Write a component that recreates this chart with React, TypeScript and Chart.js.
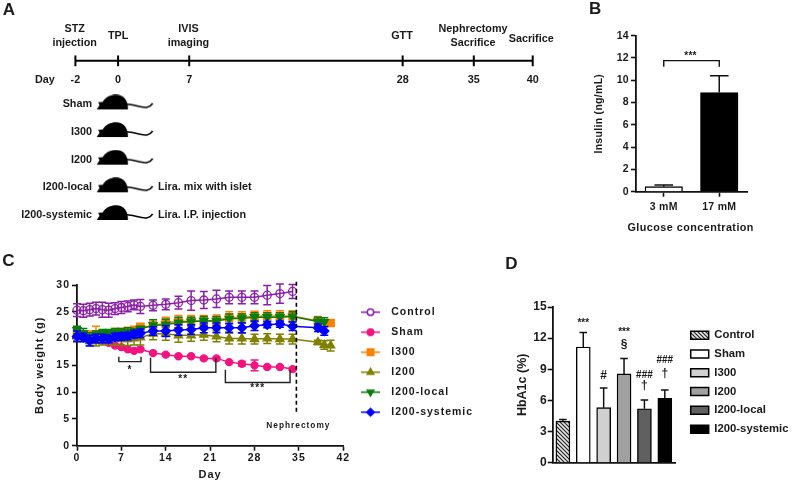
import React, { useEffect, useRef } from "react";
import { Chart, LinearScale, registerables } from "chart.js";
import { drawPoint } from "chart.js/helpers";

// ---------- Panel A data ----------
const timelineDays = [-2, 0, 7, 28, 35, 40];
const timelineEvents = [["STZ", "injection"], ["TPL"], ["IVIS", "imaging"], ["GTT"], ["Nephrectomy", "Sacrifice"], ["Sacrifice"]];
const groupNames = ["Sham", "I300", "I200", "I200-local", "I200-systemic"];
const groupRows = [0, 1, 2, 3, 4];
const treatmentNotes = ["", "", "", "Lira. mix with islet", "Lira. I.P. injection"];

// ---------- Panel B data ----------
const glucoseLabels = ["3 mM", "17 mM"];
const insulinValues = [0.45, 8.9];
const insulinErrors = [0.15, 1.5];

// ---------- Panel C data ----------
const studyDays = [0, 1, 2, 3, 4, 5, 6, 7, 8, 9, 10, 12, 14, 16, 18, 20, 22, 24, 26, 28, 30, 32, 34];
const controlWeight = [25.3, 25.2, 25.4, 25.6, 25.4, 25.3, 25.6, 25.8, 26.0, 26.3, 26.0, 26.2, 26.4, 26.7, 27.1, 27.2, 27.4, 27.7, 27.7, 27.7, 28.1, 28.4, 28.8];
const controlError = [1.2, 1.2, 1.2, 1.2, 1.4, 1.3, 1.1, 1.1, 1.0, 0.9, 1.3, 1.0, 1.0, 1.2, 1.8, 1.6, 1.6, 1.2, 1.2, 1.2, 1.8, 1.8, 1.3];
const shamWeight = [20.8, 20.5, 20.0, 19.8, 19.6, 19.2, 18.7, 18.4, 18.0, 17.7, 18.0, 17.3, 17.0, 16.7, 16.7, 16.3, 16.3, 15.6, 15.3, 15.0, 14.7, 14.7, 14.3];
const shamError = [0.3, 0.3, 0.3, 0.3, 0.3, 0.3, 0.2, 0.2, 0.2, 0.2, 0.2, 0.2, 0.2, 0.2, 0.2, 0.2, 0.2, 0.2, 0.4, 1.0, 0.2, 0.2, 0.2];
const i300Days = [...studyDays, 38, 40];
const i300Weight = [21.0, 20.7, 20.5, 20.8, 20.5, 20.7, 21.0, 21.0, 21.2, 21.4, 22.2, 22.3, 23.0, 23.2, 23.3, 23.3, 23.4, 23.9, 24.0, 24.1, 24.2, 24.2, 24.2, 23.3, 22.9];
const i300Error = [0.9, 0.7, 0.9, 1.5, 0.8, 0.8, 0.9, 0.9, 0.9, 0.9, 0.5, 0.9, 1.0, 1.1, 1.0, 1.0, 1.0, 1.1, 1.0, 1.0, 1.0, 1.0, 1.0, 0.8, 0.5];
const i200Days = [...studyDays, 38, 39, 40];
const i200Weight = [20.6, 20.3, 19.5, 19.5, 19.8, 20.0, 20.0, 19.9, 19.9, 20.0, 20.2, 20.9, 20.9, 20.6, 20.6, 20.7, 20.4, 20.0, 20.0, 19.9, 20.0, 19.9, 19.9, 19.3, 18.8, 18.7];
const i200Error = [1.0, 0.8, 0.8, 0.9, 1.0, 1.0, 1.2, 1.2, 1.2, 1.2, 1.4, 1.1, 1.2, 1.3, 1.1, 1.0, 1.0, 1.0, 1.0, 0.9, 0.9, 0.9, 0.9, 0.4, 0.8, 1.0];
const localDays = [...studyDays, 38, 39];
const localWeight = [21.6, 21.0, 20.3, 20.7, 21.0, 21.0, 21.1, 21.1, 21.2, 21.2, 21.8, 22.5, 22.6, 23.0, 23.2, 23.3, 23.3, 23.7, 23.8, 24.0, 24.0, 24.0, 24.1, 23.2, 23.1];
const localError = [0.7, 0.9, 0.8, 0.7, 0.7, 0.7, 0.8, 0.8, 0.8, 0.7, 0.5, 1.0, 1.0, 1.0, 0.8, 0.8, 0.8, 0.9, 0.8, 0.8, 0.8, 0.8, 0.9, 0.8, 0.8];
const systemicWeight = [20.4, 20.2, 19.6, 20.0, 20.0, 19.9, 20.3, 20.4, 20.5, 20.8, 21.0, 21.4, 21.4, 21.6, 21.7, 22.0, 22.0, 22.0, 22.0, 22.4, 22.6, 22.7, 22.3, 22.0, 21.4];
const systemicError = [1.0, 0.8, 1.0, 0.8, 0.8, 0.7, 0.7, 0.7, 0.7, 0.7, 0.8, 0.8, 1.0, 1.0, 0.9, 0.9, 0.9, 0.8, 0.9, 0.9, 0.6, 0.6, 0.8, 0.7, 0.8];
const bracketFrom = [6.6, 11.6, 23.4];
const bracketTo = [10.1, 21.9, 33.6];
const bracketLow = [15.7, 13.7, 11.8];
const bracketHigh = [16.6, 16.4, 14.2];
const bracketStars = ["*", "**", "***"];
const bracketStarValue = [14.1, 12.4, 10.8];
const nephrectomyDay = 34.6;

// ---------- Panel D data ----------
const hba1cGroups = ["Control", "Sham", "I300", "I200", "I200-local", "I200-systemic"];
const hba1cValues = [4.0, 11.15, 5.3, 8.55, 5.2, 6.2];
const hba1cErrors = [0.15, 1.4, 1.9, 1.5, 0.85, 0.8];
const markGroup = [1, 3, 3, 2, 4, 4, 5, 5];
const markValue = [13.4, 12.6, 11.35, 8.4, 8.45, 7.45, 9.85, 8.55];
const markText = ["***", "***", "§", "#", "###", "†", "###", "†"];

const INK = "#1a1a1a";
const FONT = "'Liberation Sans', Arial, sans-serif";
const bold = (size: number) => `bold ${size}px ${FONT}`;

function write(ctx: any, text: string, x: number, y: number, font: string, align = "center", gap = "") {
  ctx.save();
  ctx.font = font;
  if (gap) ctx.letterSpacing = gap;
  ctx.fillStyle = INK;
  ctx.textAlign = align;
  ctx.textBaseline = "middle";
  ctx.fillText(text, x, y);
  ctx.restore();
}

// Timeline axis: a day-linear scale whose two outer segments are stretched differently.
const warp = (d: number) => (d < 0 ? d * 2.1 : d > 35 ? 35 + (d - 35) * 1.159 : d);
class TimelineScale extends LinearScale {
  static id = "timeline";
  static defaults = LinearScale.defaults;
  getPixelForValue(v: number) {
    const lo = warp(this.min), hi = warp(this.max);
    return this.getPixelForDecimal((warp(v) - lo) / (hi - lo));
  }
}
Chart.register(...registerables, TimelineScale);

function mouseImage() {
  const c = document.createElement("canvas");
  c.width = 72;
  c.height = 20;
  const g = c.getContext("2d")!;
  g.translate(14.6, 0.3);
  g.scale(56 / 52, 1);
  g.fillStyle = "#000";
  g.strokeStyle = "#000";
  g.beginPath();
  g.moveTo(0, 14.6);
  g.lineTo(2.6, 10.5);
  g.lineTo(1.4, 7.5);
  g.lineTo(5.6, 7.2);
  g.bezierCurveTo(8, 2.5, 13, 0, 18, 0);
  g.bezierCurveTo(25, 0, 29.5, 6, 29, 14.6);
  g.closePath();
  g.fill();
  g.lineWidth = 1.6;
  g.beginPath();
  g.moveTo(28, 9.5);
  g.bezierCurveTo(35, 9.5, 42, 14, 47, 12.5);
  g.quadraticCurveTo(50, 11.8, 52, 8.5);
  g.stroke();
  return c;
}

function hatchPattern() {
  const c = document.createElement("canvas");
  c.width = 4;
  c.height = 4;
  const g = c.getContext("2d")!;
  g.fillStyle = "#e8e8e8";
  g.fillRect(0, 0, 4, 4);
  g.strokeStyle = "#222";
  g.lineWidth = 1.2;
  g.beginPath();
  g.moveTo(-1, -1); g.lineTo(5, 5);
  g.moveTo(-1, 3); g.lineTo(1, 5);
  g.moveTo(3, -1); g.lineTo(5, 1);
  g.stroke();
  return g.createPattern(c, "repeat")!;
}

const errorBars = {
  id: "errorBars",
  beforeDatasetDraw(chart: any, args: any) {
    const ds = chart.data.datasets[args.index];
    if (!ds.errors) return;
    const y = chart.scales.y;
    const meta = chart.getDatasetMeta(args.index);
    const ctx = chart.ctx;
    ctx.save();
    ctx.strokeStyle = ds.errorColor;
    ctx.lineWidth = ds.errorWidth;
    meta.data.forEach((el: any, i: number) => {
      const raw = ds.data[i];
      const v = typeof raw === "number" ? raw : raw.y;
      const top = y.getPixelForValue(v + ds.errors[i]);
      const bot = y.getPixelForValue(ds.upOnly ? v : v - ds.errors[i]);
      ctx.beginPath();
      ctx.moveTo(el.x, bot); ctx.lineTo(el.x, top);
      ctx.moveTo(el.x - ds.capHalf, top); ctx.lineTo(el.x + ds.capHalf, top);
      if (!ds.upOnly) { ctx.moveTo(el.x - ds.capHalf, bot); ctx.lineTo(el.x + ds.capHalf, bot); }
      ctx.stroke();
    });
    ctx.restore();
  },
};

// Places the Chart.js legend (laid out on the chart area) at a chosen spot in the canvas.
const placeLegend = (left: number, top: number, w: number, h: number) => ({
  id: "placeLegend",
  beforeDraw(chart: any) {
    const l = chart.legend;
    if (!l) return;
    Object.assign(l, { left, top, right: left + w, bottom: top + h, width: w, height: h });
  },
});

const spacing = (px: string) => ({
  id: "spacing",
  beforeLayout(chart: any) { chart.ctx.letterSpacing = px; },
});

const axisScale = (extra: any, fit: (s: any) => void) => ({
  afterFit: fit,
  border: { display: true, color: "#111", width: 1.8 },
  grid: { drawOnChartArea: false, drawTicks: true, tickLength: 5, tickWidth: 1.6, tickColor: "#111", offset: false },
  ...extra,
});

function panelA(canvas: HTMLCanvasElement) {
  const mouse = mouseImage();
  return new Chart(canvas, {
    type: "scatter",
    data: {
      datasets: [
        {
          data: timelineDays.map((d) => ({ x: d, y: -1.575 })),
          showLine: true,
          borderColor: "#000",
          borderWidth: 2,
          pointStyle: "line",
          pointRotation: 90,
          pointRadius: 5.4,
          pointBorderWidth: 2,
          pointBorderColor: "#000",
          clip: false,
        },
        {
          data: groupRows.map((r) => ({ x: 0, y: r })),
          pointStyle: mouse,
          pointRadius: 5,
          clip: false,
        },
      ],
    } as any,
    plugins: [
      {
        id: "textA",
        afterDraw(chart: any) {
          const { ctx, scales } = chart;
          const { x, y } = scales;
          write(ctx, "A", 9, 10.5, bold(17));
          write(ctx, "Day", 44.9, 80, bold(10.8));
          const sh = [-0.7, 0, -0.8, -0.7, -0.8, -1.5];
          const rows = [[29, 42.7], [36], [29, 43], [36], [29, 42.7], [39]];
          timelineEvents.forEach((lines, i) => {
            lines.forEach((t, j) => write(ctx, t, x.getPixelForValue(timelineDays[i]) + sh[i], rows[i][j], bold(10.8)));
          });
          groupNames.forEach((g, i) => {
            write(ctx, g, x.getPixelForValue(-1.22), y.getPixelForValue(groupRows[i]), bold(10.8), "right");
            if (treatmentNotes[i]) write(ctx, treatmentNotes[i], x.getPixelForValue(3.93), y.getPixelForValue(groupRows[i]), bold(10.8), "left");
          });
        },
      },
    ],
    options: {
      responsive: false,
      animation: false,
      events: [],
      layout: { padding: { left: 75.4, right: 580 - 532.7, top: 21.45, bottom: 250 - 243.45 } },
      plugins: { legend: { display: false }, tooltip: { enabled: false } },
      scales: {
        x: {
          type: "timeline",
          min: -2,
          max: 40,
          position: { y: -1.12 },
          afterBuildTicks: (s: any) => { s.ticks = timelineDays.map((value) => ({ value })); },
          border: { display: false },
          grid: { display: false, drawTicks: false },
          ticks: { autoSkip: false, maxRotation: 0, padding: 0, color: INK, font: { family: FONT, weight: "bold", size: 10.8 } },
        },
        y: { min: -3, max: 5, reverse: true, display: false },
      },
    } as any,
  });
}

function panelB(canvas: HTMLCanvasElement) {
  const W = 212, H = 240;
  return new Chart(canvas, {
    type: "bar",
    data: {
      labels: glucoseLabels,
      datasets: [
        {
          data: insulinValues,
          backgroundColor: ["#fff", "#000"],
          borderColor: "#000",
          borderWidth: 1.4,
          barThickness: 37.5,
          errors: insulinErrors,
          errorColor: "#111",
          errorWidth: 1.5,
          capHalf: 9.3,
          upOnly: true,
        },
      ],
    } as any,
    plugins: [
      errorBars,
      spacing("0.3px"),
      {
        id: "textB",
        afterDraw(chart: any) {
          const { ctx, scales } = chart;
          const { x, y } = scales;
          write(ctx, "B", 15.3, 9.5, bold(17));
          const a = x.getPixelForValue(0), b = x.getPixelForValue(1);
          const hi = y.getPixelForValue(11.76), lo = y.getPixelForValue(11.22);
          ctx.save();
          ctx.strokeStyle = "#111";
          ctx.lineWidth = 1.4;
          ctx.beginPath();
          ctx.moveTo(a, lo); ctx.lineTo(a, hi); ctx.lineTo(b, hi); ctx.lineTo(b, lo);
          ctx.stroke();
          ctx.restore();
          write(ctx, "***", (a + b) / 2 - 1, y.getPixelForValue(12.2), bold(10));
          write(ctx, "Glucose concentration", 110.7, 228, bold(10.8), "center", "0.45px");
        },
      },
    ],
    options: {
      responsive: false,
      animation: false,
      events: [],
      layout: { padding: { top: 35.7, right: W - 167 } },
      plugins: { legend: { display: false }, tooltip: { enabled: false } },
      scales: {
        x: axisScale(
          { ticks: { color: INK, padding: 4, font: { family: FONT, weight: "bold", size: 10.5 } } },
          (s) => { s.height = H - 191.7; },
        ),
        y: axisScale(
          {
            min: 0,
            max: 14,
            ticks: { stepSize: 2, color: INK, padding: 2, font: { family: FONT, weight: "bold", size: 10.5 } },
            title: { display: true, text: "Insulin (ng/mL)", color: INK, padding: { top: 13, bottom: 0 }, font: { family: FONT, weight: "bold", size: 10.5 } },
          },
          (s) => { s.width = 56; },
        ),
      },
    } as any,
  });
}

function panelC(canvas: HTMLCanvasElement) {
  const W = 500, H = 232;
  const series = [
    { label: "Control", days: studyDays, y: controlWeight, err: controlError, color: "#8A1FA8", style: "circle", r: 4, key: 3.2, rot: 0, open: true },
    { label: "Sham", days: studyDays, y: shamWeight, err: shamError, color: "#F5147F", style: "circle", r: 3.5, key: 3.2, rot: 0, open: false },
    { label: "I300", days: i300Days, y: i300Weight, err: i300Error, color: "#FF8000", style: "rect", r: 5.2, key: 4.6, rot: 0, open: false },
    { label: "I200", days: i200Days, y: i200Weight, err: i200Error, color: "#808000", style: "triangle", r: 4.8, key: 3.8, rot: 0, open: false },
    { label: "I200-local", days: localDays, y: localWeight, err: localError, color: "#0B7D0B", style: "triangle", r: 4.8, key: 3.8, rot: 180, open: false },
    { label: "I200-systemic", days: localDays, y: systemicWeight, err: systemicError, color: "#0000FF", style: "rectRot", r: 4.6, key: 3.8, rot: 0, open: false },
  ];
  const legendIcon = (s: any) => {
    const c = document.createElement("canvas");
    c.width = 25;
    c.height = 12;
    const g = c.getContext("2d")!;
    g.strokeStyle = s.color;
    g.lineWidth = 1.5;
    g.beginPath();
    g.moveTo(0, 6); g.lineTo(19, 6);
    g.stroke();
    g.fillStyle = s.open ? "#fff" : s.color;
    drawPoint(g, { pointStyle: s.style, radius: s.key, borderWidth: 1.2, rotation: s.rot } as any, 9.5, 6);
    return c;
  };
  const icons = series.map(legendIcon);
  return new Chart(canvas, {
    type: "scatter",
    data: {
      datasets: series.map((s, i) => ({
        label: s.label,
        data: s.y.map((v, k) => ({ x: s.days[k], y: v })),
        showLine: true,
        order: -i,
        borderColor: s.color,
        borderWidth: 1.5,
        pointStyle: s.style,
        pointRadius: s.r,
        pointRotation: s.rot,
        pointBorderColor: s.color,
        pointBorderWidth: 1.3,
        pointBackgroundColor: s.open ? "rgba(0,0,0,0)" : s.color,
        errors: s.err,
        errorColor: s.color,
        errorWidth: 1.5,
        capHalf: 4,
        clip: false,
      })),
    } as any,
    plugins: [
      errorBars,
      placeLegend(351.5, 47.5, 146, 130),
      spacing("1px"),
      {
        id: "notesC",
        afterDatasetsDraw(chart: any) {
          const { ctx, scales } = chart;
          const { x, y } = scales;
          ctx.save();
          ctx.strokeStyle = "#222";
          ctx.lineWidth = 1.4;
          bracketFrom.forEach((from, i) => {
            const a = x.getPixelForValue(from), b = x.getPixelForValue(bracketTo[i]);
            const lo = y.getPixelForValue(bracketLow[i]), hi = y.getPixelForValue(bracketHigh[i]);
            ctx.beginPath();
            ctx.moveTo(a, hi); ctx.lineTo(a, lo); ctx.lineTo(b, lo); ctx.lineTo(b, hi);
            ctx.stroke();
            write(ctx, bracketStars[i], (a + b) / 2, y.getPixelForValue(bracketStarValue[i]), bold(10));
          });
          ctx.strokeStyle = "#000";
          ctx.lineWidth = 1.6;
          ctx.setLineDash([4, 3]);
          const dx = x.getPixelForValue(nephrectomyDay);
          ctx.beginPath();
          ctx.moveTo(dx, y.getPixelForValue(30.6));
          ctx.lineTo(dx, y.getPixelForValue(5.8));
          ctx.stroke();
          ctx.restore();
          write(ctx, "C", 9, 11, bold(17));
          write(ctx, "Nephrectomy", dx + 2, 175.6, bold(8.3));
        },
      },
    ],
    options: {
      responsive: false,
      animation: false,
      events: [],
      layout: { padding: { top: 35, right: W - 343.3 } },
      plugins: {
        tooltip: { enabled: false },
        legend: {
          position: "chartArea",
          align: "start",
          labels: {
            usePointStyle: true,
            pointStyleWidth: 25,
            padding: 9.5,
            color: INK,
            font: { family: FONT, weight: "bold", size: 10.5 },
            generateLabels: () =>
              series.map((s, i) => ({ text: s.label, pointStyle: icons[i], datasetIndex: i, fontColor: INK, hidden: false })),
          },
        },
      },
      scales: {
        x: axisScale(
          {
            type: "linear",
            min: 0,
            max: 42,
            ticks: { stepSize: 7, color: INK, padding: 1, font: { family: FONT, weight: "bold", size: 10.5 } },
            title: { display: true, text: "Day", color: INK, padding: { top: 0, bottom: 0 }, font: { family: FONT, weight: "bold", size: 11 } },
          },
          (s) => { s.height = H - 195.7; },
        ),
        y: axisScale(
          {
            min: 0,
            max: 30,
            ticks: { stepSize: 5, color: INK, padding: 2, font: { family: FONT, weight: "bold", size: 10.5 } },
            title: { display: true, text: "Body weight (g)", color: INK, padding: { top: 33, bottom: 0 }, font: { family: FONT, weight: "bold", size: 11 } },
          },
          (s) => { s.width = 77; },
        ),
      },
    } as any,
  });
}

function panelD(canvas: HTMLCanvasElement) {
  const W = 292, H = 232;
  const hatch = hatchPattern();
  const fills = [hatch, "#fff", "#d0d0d0", "#a0a0a0", "#606060", "#000"];
  return new Chart(canvas, {
    type: "bar",
    data: {
      labels: hba1cGroups,
      datasets: [
        {
          data: hba1cValues,
          backgroundColor: fills,
          borderColor: "#000",
          borderWidth: 1.4,
          barThickness: 14,
          errors: hba1cErrors,
          errorColor: "#111",
          errorWidth: 1.5,
          capHalf: 3.8,
          upOnly: true,
        },
      ],
    } as any,
    plugins: [
      errorBars,
      placeLegend(183.2, 72, 108, 125),
      {
        id: "textD",
        afterDraw(chart: any) {
          const { ctx, scales } = chart;
          const { x, y } = scales;
          write(ctx, "D", 11.5, 14, bold(17));
          markText.forEach((t, i) => {
            const size = t === "†" || t === "§" ? 12 : t === "#" ? 12 : 10;
            write(ctx, t, x.getPixelForValue(markGroup[i]), y.getPixelForValue(markValue[i]), bold(size));
          });
        },
      },
    ],
    options: {
      responsive: false,
      animation: false,
      events: [],
      layout: { padding: { top: 57, right: W - 175 } },
      plugins: {
        tooltip: { enabled: false },
        legend: {
          position: "chartArea",
          align: "start",
          labels: {
            boxWidth: 18,
            boxHeight: 8,
            padding: 7.5,
            color: INK,
            font: { family: FONT, weight: "bold", size: 11.3 },
            generateLabels: () =>
              hba1cGroups.map((g, i) => ({ text: g, fillStyle: fills[i], strokeStyle: "#000", lineWidth: 1.5, index: i, fontColor: INK, hidden: false })),
          },
        },
      },
      scales: {
        x: axisScale(
          { grid: { display: false, drawTicks: false }, ticks: { display: false } },
          (s) => { s.height = H - 212.7; },
        ),
        y: axisScale(
          {
            min: 0,
            max: 15,
            ticks: { stepSize: 3, color: INK, padding: 1, font: { family: FONT, weight: "bold", size: 12 } },
            title: { display: true, text: "HbA1c (%)", color: INK, padding: { top: 15, bottom: 0 }, font: { family: FONT, weight: "bold", size: 12.5 } },
          },
          (s) => { s.width = 52.7; },
        ),
      },
    } as any,
  });
}

const boxes = [
  { left: 0, top: 0, width: 580, height: 250, make: panelA },
  { left: 580, top: 0, width: 212, height: 240, make: panelB },
  { left: 0, top: 250, width: 500, height: 232, make: panelC },
  { left: 500, top: 250, width: 292, height: 232, make: panelD },
];

export default function App() {
  const refs = useRef<(HTMLCanvasElement | null)[]>([]);
  useEffect(() => {
    const charts = boxes.map((b, i) => b.make(refs.current[i]!));
    return () => charts.forEach((c) => c.destroy());
  }, []);
  return (
    <div style={{ position: "absolute", left: 0, top: 0, width: 792, height: 482, background: "#fff", overflow: "hidden" }}>
      {boxes.map((b, i) => (
        <canvas
          key={i}
          ref={(el) => { refs.current[i] = el; }}
          width={b.width}
          height={b.height}
          style={{ position: "absolute", left: b.left, top: b.top, width: b.width, height: b.height }}
        />
      ))}
    </div>
  );
}
